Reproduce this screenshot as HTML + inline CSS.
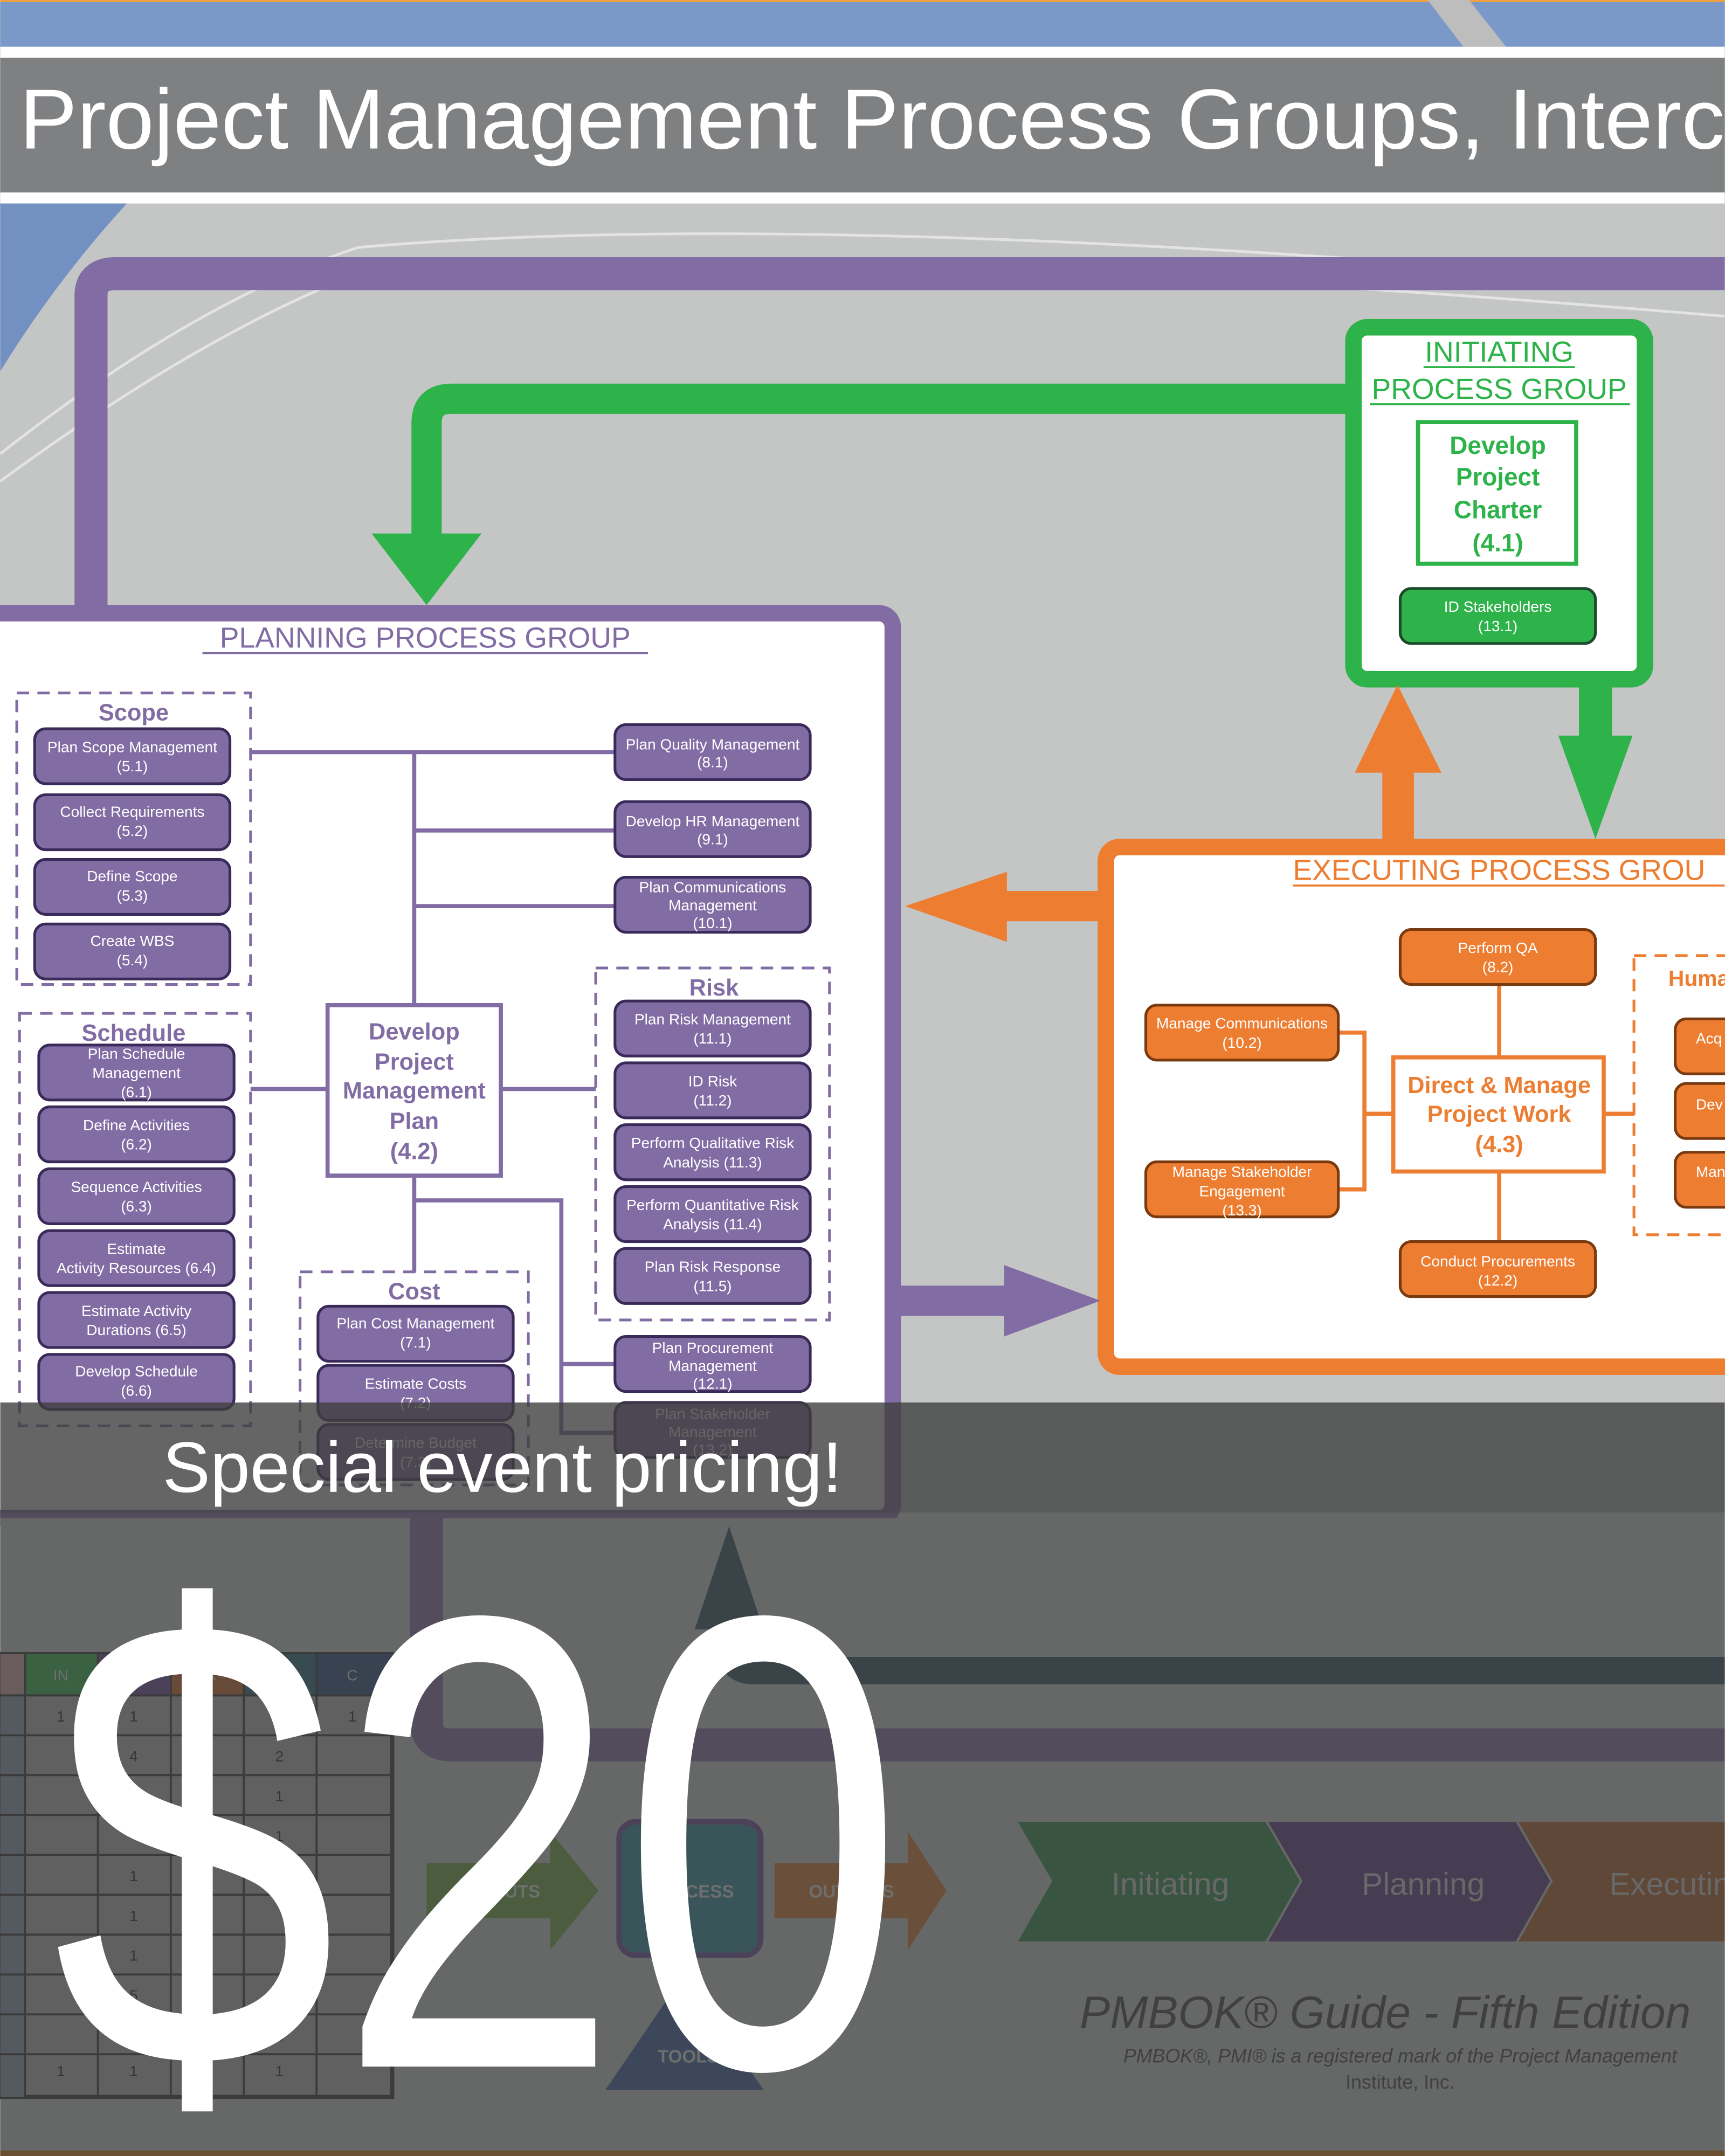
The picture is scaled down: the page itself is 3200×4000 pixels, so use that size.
<!DOCTYPE html>
<html><head><meta charset="utf-8"><style>
html,body{margin:0;padding:0;background:#c4c5c5;}
svg{display:block;}
text{font-family:"Liberation Sans",sans-serif;}
</style></head><body>
<svg width="3200" height="4000" viewBox="0 0 1254 1568" xmlns="http://www.w3.org/2000/svg">
<rect x="0" y="0" width="1254" height="1568" fill="#c4c5c5"/>
<rect x="0" y="0" width="1254" height="34" fill="#7a99c8"/>
<rect x="0" y="0" width="1254" height="1.5" fill="#f0a040"/>
<polygon points="1038,0 1068,0 1095,34 1064,34" fill="#bdbdbd"/>
<rect x="0" y="34" width="1254" height="8" fill="#fff"/>
<rect x="0" y="42" width="1254" height="98" fill="#7f8082"/>
<rect x="0" y="140" width="1254" height="8" fill="#fff"/>
<text x="14" y="108" font-size="62" fill="#fff" textLength="1240" lengthAdjust="spacingAndGlyphs">Project Management Process Groups, Interc</text>
<path d="M0,148 L92,148 Q40,205 0,270 Z" fill="#7390c2"/>
<path d="M0,330 Q140,220 260,180 Q600,150 1254,210" stroke="#e3e3e3" stroke-width="2" fill="none"/>
<path d="M0,350 Q150,240 270,195 Q600,175 1254,230" stroke="#e3e3e3" stroke-width="2" fill="none"/>

<path d="M66,440 L66,215 Q66,199 84,199 L1254,199" stroke="#826ca4" stroke-width="24" fill="none"/>

<path d="M985,290 L328,290 Q310,290 310,308 L310,390" stroke="#2db34a" stroke-width="22" fill="none"/>
<polygon points="270,388 350,388 310,440" fill="#2db34a"/>

<rect x="984" y="238" width="212" height="256" rx="10" fill="#fff" stroke="#2db34a" stroke-width="12"/>
<text x="1090" y="263" font-size="21" fill="#2db34a" text-anchor="middle">INITIATING</text>
<line x1="1035" y1="267" x2="1145" y2="267" stroke="#2db34a" stroke-width="1.5"/>
<text x="1090" y="290" font-size="21" fill="#2db34a" text-anchor="middle">PROCESS GROUP</text>
<line x1="996" y1="294" x2="1185" y2="294" stroke="#2db34a" stroke-width="1.5"/>
<rect x="1031" y="307" width="115" height="103" fill="#fff" stroke="#2db34a" stroke-width="3"/>
<g font-size="18" font-weight="bold" fill="#2db34a" text-anchor="middle">
<text x="1089" y="330">Develop</text><text x="1089" y="353">Project</text><text x="1089" y="377">Charter</text><text x="1089" y="401">(4.1)</text>
</g>
<rect x="1018" y="428" width="142" height="40" rx="8" fill="#2db34a" stroke="#1d4a2a" stroke-width="2"/>
<text x="1089" y="445" font-size="11" fill="#fff" text-anchor="middle">ID Stakeholders</text>
<text x="1089" y="459" font-size="11" fill="#fff" text-anchor="middle">(13.1)</text>

<rect x="1148" y="498" width="24" height="40" fill="#2db34a"/>
<polygon points="1133,535 1187,535 1160,610" fill="#2db34a"/>
<rect x="1005" y="555" width="23" height="58" fill="#ed7d31"/>
<polygon points="985,562 1048,562 1016,498" fill="#ed7d31"/>

<rect x="804" y="616" width="470" height="378" rx="10" fill="#fff" stroke="#ed7d31" stroke-width="12"/>
<text x="940" y="640" font-size="21" fill="#ed7d31">EXECUTING PROCESS GROU</text>
<line x1="940" y1="644" x2="1254" y2="644" stroke="#ed7d31" stroke-width="1.5"/>
<rect x="725" y="648" width="80" height="22" fill="#ed7d31"/>
<polygon points="732,634 732,685 658,659" fill="#ed7d31"/>
<rect x="652" y="935" width="85" height="22" fill="#826ca4"/>
<polygon points="730,920 730,972 800,946" fill="#826ca4"/>

<g stroke="#ed7d31" stroke-width="3" fill="none">
<line x1="1090" y1="716" x2="1090" y2="769"/><line x1="1090" y1="852" x2="1090" y2="903"/>
<path d="M973,751 L992,751 L992,865 L973,865"/><line x1="992" y1="810" x2="1013" y2="810"/>
<line x1="1166" y1="810" x2="1188" y2="810"/>
</g>
<rect x="1188" y="695" width="80" height="203" fill="none" stroke="#ed7d31" stroke-width="2" stroke-dasharray="9,6"/>
<text x="1213" y="717" font-size="16" font-weight="bold" fill="#ed7d31">Huma</text>
<g fill="#ed7d31" stroke="#7a3a10" stroke-width="2">
<rect x="1018" y="676" width="142" height="40" rx="8"/>
<rect x="833" y="731" width="140" height="40" rx="8"/>
<rect x="833" y="845" width="140" height="40" rx="8"/>
<rect x="1018" y="903" width="142" height="40" rx="8"/>
<rect x="1218" y="741" width="60" height="40" rx="8"/>
<rect x="1218" y="788" width="60" height="40" rx="8"/>
<rect x="1218" y="838" width="60" height="40" rx="8"/>
</g>
<g font-size="11" fill="#fff" text-anchor="middle">
<text x="1089" y="693">Perform QA</text><text x="1089" y="707">(8.2)</text>
<text x="903" y="748">Manage Communications</text><text x="903" y="762">(10.2)</text>
<text x="903" y="856">Manage Stakeholder</text><text x="903" y="870">Engagement</text><text x="903" y="884">(13.3)</text>
<text x="1089" y="921">Conduct Procurements</text><text x="1089" y="935">(12.2)</text>
</g>
<g font-size="11" fill="#fff"><text x="1233" y="759">Acq</text><text x="1233" y="807">Dev</text><text x="1233" y="856">Man</text></g>
<rect x="1013" y="769" width="153" height="83" fill="#fff" stroke="#ed7d31" stroke-width="3"/>
<g font-size="17" font-weight="bold" fill="#ed7d31" text-anchor="middle">
<text x="1090" y="795">Direct &amp; Manage</text><text x="1090" y="816">Project Work</text><text x="1090" y="838">(4.3)</text>
</g>

<rect x="-20" y="446" width="669" height="658" rx="10" fill="#fff" stroke="#826ca4" stroke-width="12"/>
<text x="309" y="471" font-size="21" fill="#826ca4" text-anchor="middle">PLANNING PROCESS GROUP</text>
<line x1="147" y1="475" x2="471" y2="475" stroke="#826ca4" stroke-width="1.5"/>
<g stroke="#826ca4" stroke-width="3" fill="none">
<line x1="182" y1="547" x2="447" y2="547"/><line x1="301" y1="547" x2="301" y2="731"/>
<line x1="301" y1="604" x2="447" y2="604"/><line x1="301" y1="659" x2="447" y2="659"/>
<line x1="182" y1="792" x2="238" y2="792"/><line x1="364" y1="792" x2="433" y2="792"/>
<line x1="301" y1="855" x2="301" y2="925"/>
<path d="M301,873 L408,873 L408,1042 L447,1042"/><line x1="408" y1="992" x2="447" y2="992"/>
</g>
<g fill="none" stroke="#826ca4" stroke-width="2" stroke-dasharray="9,6">
<rect x="12" y="504" width="170" height="212"/>
<rect x="14" y="737" width="168" height="300"/>
<rect x="218" y="925" width="166" height="155"/>
<rect x="433" y="704" width="170" height="256"/>
</g>
<g font-size="17" font-weight="bold" fill="#826ca4" text-anchor="middle">
<text x="97" y="524">Scope</text><text x="97" y="757">Schedule</text><text x="301" y="945">Cost</text><text x="519" y="724">Risk</text>
</g>
<g fill="#826ca4" stroke="#3a2a5a" stroke-width="2">
<rect x="25" y="530" width="142" height="40" rx="8"/>
<rect x="25" y="578" width="142" height="40" rx="8"/>
<rect x="25" y="625" width="142" height="40" rx="8"/>
<rect x="25" y="672" width="142" height="40" rx="8"/>
<rect x="28" y="760" width="142" height="40" rx="8"/>
<rect x="28" y="805" width="142" height="40" rx="8"/>
<rect x="28" y="850" width="142" height="40" rx="8"/>
<rect x="28" y="895" width="142" height="40" rx="8"/>
<rect x="28" y="940" width="142" height="40" rx="8"/>
<rect x="28" y="985" width="142" height="40" rx="8"/>
<rect x="231" y="950" width="142" height="40" rx="8"/>
<rect x="231" y="993" width="142" height="40" rx="8"/>
<rect x="231" y="1036" width="142" height="40" rx="8"/>
<rect x="447" y="527" width="142" height="40" rx="8"/>
<rect x="447" y="583" width="142" height="40" rx="8"/>
<rect x="447" y="638" width="142" height="40" rx="8"/>
<rect x="447" y="728" width="142" height="40" rx="8"/>
<rect x="447" y="773" width="142" height="40" rx="8"/>
<rect x="447" y="818" width="142" height="40" rx="8"/>
<rect x="447" y="863" width="142" height="40" rx="8"/>
<rect x="447" y="908" width="142" height="40" rx="8"/>
<rect x="447" y="972" width="142" height="40" rx="8"/>
<rect x="447" y="1020" width="142" height="40" rx="8"/>
</g>
<g font-size="11" fill="#fff" text-anchor="middle">
<text x="96" y="547">Plan Scope Management</text><text x="96" y="561">(5.1)</text>
<text x="96" y="594">Collect Requirements</text><text x="96" y="608">(5.2)</text>
<text x="96" y="641">Define Scope</text><text x="96" y="655">(5.3)</text>
<text x="96" y="688">Create WBS</text><text x="96" y="702">(5.4)</text>
<text x="99" y="770">Plan Schedule</text><text x="99" y="784">Management</text><text x="99" y="798">(6.1)</text>
<text x="99" y="822">Define Activities</text><text x="99" y="836">(6.2)</text>
<text x="99" y="867">Sequence Activities</text><text x="99" y="881">(6.3)</text>
<text x="99" y="912">Estimate</text><text x="99" y="926">Activity Resources (6.4)</text>
<text x="99" y="957">Estimate Activity</text><text x="99" y="971">Durations (6.5)</text>
<text x="99" y="1001">Develop Schedule</text><text x="99" y="1015">(6.6)</text>
<text x="302" y="966">Plan Cost Management</text><text x="302" y="980">(7.1)</text>
<text x="302" y="1010">Estimate Costs</text><text x="302" y="1024">(7.2)</text>
<text x="302" y="1053">Determine Budget</text><text x="302" y="1067">(7.3)</text>
<text x="518" y="545">Plan Quality Management</text><text x="518" y="558">(8.1)</text>
<text x="518" y="601">Develop HR Management</text><text x="518" y="614">(9.1)</text>
<text x="518" y="649">Plan Communications</text><text x="518" y="662">Management</text><text x="518" y="675">(10.1)</text>
<text x="518" y="745">Plan Risk Management</text><text x="518" y="759">(11.1)</text>
<text x="518" y="790">ID Risk</text><text x="518" y="804">(11.2)</text>
<text x="518" y="835">Perform Qualitative Risk</text><text x="518" y="849">Analysis (11.3)</text>
<text x="518" y="880">Perform Quantitative Risk</text><text x="518" y="894">Analysis (11.4)</text>
<text x="518" y="925">Plan Risk Response</text><text x="518" y="939">(11.5)</text>
<text x="518" y="984">Plan Procurement</text><text x="518" y="997">Management</text><text x="518" y="1010">(12.1)</text>
<text x="518" y="1032">Plan Stakeholder</text><text x="518" y="1045">Management</text><text x="518" y="1058">(13.2)</text>
</g>
<rect x="238" y="731" width="126" height="124" fill="#fff" stroke="#826ca4" stroke-width="3"/>
<g font-size="17" font-weight="bold" fill="#826ca4" text-anchor="middle">
<text x="301" y="756">Develop</text><text x="301" y="778">Project</text><text x="301" y="799">Management</text><text x="301" y="821">Plan</text><text x="301" y="843">(4.2)</text>
</g>

<rect x="0" y="1104" width="1254" height="464" fill="#c4c5c5"/>
<path d="M310,1104 L310,1252 Q310,1269 328,1269 L1254,1269" stroke="#826ca4" stroke-width="24" fill="none"/>
<path d="M1254,1215 L548,1215 Q530,1215 530,1195 L530,1160" stroke="#2f4f5a" stroke-width="20" fill="none"/>
<polygon points="505,1185 555,1185 530,1110" fill="#2f4f5a"/>
<rect x="0" y="1203" width="285" height="322" fill="#b0b0b0" stroke="#333" stroke-width="3"/>
<rect x="0" y="1203" width="18" height="30" fill="#c9a0a0"/>
<rect x="18" y="1203" width="53" height="30" fill="#2db34a"/>
<rect x="71" y="1203" width="53" height="30" fill="#6a4a9a"/>
<rect x="124" y="1203" width="53" height="30" fill="#c8642a"/>
<rect x="177" y="1203" width="53" height="30" fill="#2a6a7a"/>
<rect x="230" y="1203" width="55" height="30" fill="#2a4a7a"/>
<rect x="0" y="1233" width="18" height="292" fill="#8a9ab0"/>
<g stroke="#333" stroke-width="1.5">
<line x1="18" y1="1203" x2="18" y2="1525"/><line x1="71" y1="1203" x2="71" y2="1525"/><line x1="124" y1="1203" x2="124" y2="1525"/><line x1="177" y1="1203" x2="177" y2="1525"/><line x1="230" y1="1203" x2="230" y2="1525"/>
<line x1="0" y1="1233" x2="285" y2="1233"/><line x1="0" y1="1262" x2="285" y2="1262"/><line x1="0" y1="1291" x2="285" y2="1291"/><line x1="0" y1="1320" x2="285" y2="1320"/><line x1="0" y1="1349" x2="285" y2="1349"/><line x1="0" y1="1378" x2="285" y2="1378"/><line x1="0" y1="1407" x2="285" y2="1407"/><line x1="0" y1="1436" x2="285" y2="1436"/><line x1="0" y1="1465" x2="285" y2="1465"/><line x1="0" y1="1494" x2="285" y2="1494"/>
</g>
<g font-size="11" fill="#222" text-anchor="middle">
<text x="44" y="1252">1</text><text x="97" y="1252">1</text><text x="150" y="1252">1</text><text x="203" y="1252">2</text><text x="256" y="1252">1</text>
<text x="97" y="1281">4</text><text x="203" y="1281">2</text>
<text x="97" y="1310">6</text><text x="203" y="1310">1</text>
<text x="203" y="1339">1</text>
<text x="97" y="1368">1</text><text x="203" y="1368">1</text>
<text x="97" y="1397">1</text><text x="150" y="1397">3</text>
<text x="97" y="1426">1</text><text x="150" y="1426">1</text>
<text x="97" y="1455">5</text>
<text x="97" y="1484">1</text><text x="150" y="1484">1</text><text x="203" y="1484">1</text>
<text x="44" y="1510">1</text><text x="97" y="1510">1</text><text x="150" y="1510">1</text><text x="203" y="1510">1</text>
</g>
<g font-size="11" fill="#ddd" text-anchor="middle"><text x="44" y="1222">IN</text><text x="150" y="1222">EX</text><text x="203" y="1222">MC</text><text x="256" y="1222">C</text></g>
<polygon points="310,1355 400,1355 400,1332 435,1375 400,1418 400,1395 310,1395" fill="#6aa040"/>
<rect x="450" y="1325" width="103" height="97" rx="12" fill="#2e8a9a" stroke="#6a4a9a" stroke-width="4"/>
<polygon points="563,1355 660,1355 660,1332 688,1375 660,1418 660,1395 563,1395" fill="#d07a30"/>
<polygon points="498,1435 555,1520 440,1520" fill="#3a5a9a"/>
<g font-size="13" font-weight="bold" fill="#ddd"><text x="345" y="1380">INPUTS</text><text x="470" y="1380">PROCESS</text><text x="588" y="1380">OUTPUTS</text><text x="478" y="1500">TOOLS</text></g>
<polygon points="740,1325 920,1325 945,1368 920,1412 740,1412 765,1368" fill="#2e8a4a"/>
<polygon points="922,1325 1102,1325 1127,1368 1102,1412 922,1412 947,1368" fill="#5a3a80"/>
<polygon points="1104,1325 1254,1325 1254,1412 1104,1412 1129,1368" fill="#b0602a"/>
<g font-size="23" fill="#c8c8c8"><text x="808" y="1378">Initiating</text><text x="990" y="1378">Planning</text><text x="1170" y="1378">Executing</text></g>
<text x="785" y="1475" font-size="33" font-style="italic" fill="#444">PMBOK® Guide - Fifth Edition</text>
<text x="1018" y="1500" font-size="14" font-style="italic" fill="#444" text-anchor="middle">PMBOK®, PMI® is a registered mark of the Project Management</text>
<text x="1018" y="1519" font-size="14" fill="#444" text-anchor="middle">Institute, Inc.</text>

<rect x="0" y="1020" width="1254" height="548" fill="#3e3e3e" opacity="0.7"/>
<rect x="0" y="1020" width="1254" height="80" fill="#3a3a3a" opacity="0.3"/>
<rect x="0" y="1564" width="1254" height="4" fill="#6a5030"/>
<text x="118" y="1085" font-size="52" fill="#fff">Special event pricing!</text>
<text x="38" y="1503" font-size="470" fill="#fff" textLength="620" lengthAdjust="spacingAndGlyphs" font-family="Liberation Sans Narrow, Liberation Sans, sans-serif">$20</text>
</svg>
</body></html>
